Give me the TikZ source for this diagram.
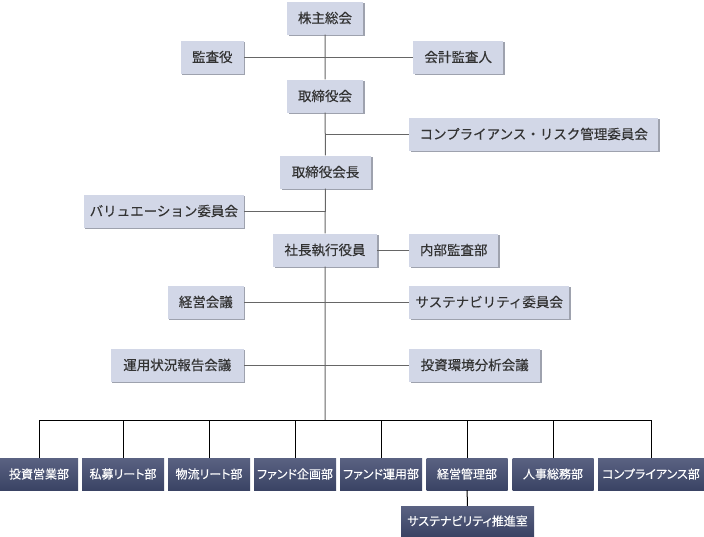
\documentclass[tikz,border=0pt]{standalone}
\usepackage{fontspec}
\setmainfont{Noto Sans CJK JP}[AutoFakeBold=0.35]
\newfontfamily\deptfont{Noto Sans CJK JP}[RawFeature=+palt,AutoFakeBold=0.35]
\usetikzlibrary{shadows}
\definecolor{boxfill}{HTML}{D2D7E7}
\definecolor{boxshade}{HTML}{9EA2AE}
\definecolor{depttop}{HTML}{5A6282}
\definecolor{deptbottom}{HTML}{3A4364}
\definecolor{txt}{HTML}{333333}
\definecolor{linegray}{HTML}{666666}
\begin{document}
\begin{tikzpicture}[x=1pt,y=-1pt,
  box/.style={fill=boxfill,minimum height=33,inner xsep=3,text=txt,
    font=\fontsize{13.5}{16}\selectfont\bfseries,
    drop shadow={shadow xshift=1.5pt,shadow yshift=-1.5pt,fill=boxshade,opacity=1}},
  dept/.style={top color=depttop,bottom color=deptbottom,minimum height=32,inner xsep=2,
    text=white,font=\deptfont\fontsize{12}{14}\selectfont\bfseries},
  conn/.style={draw=linegray,line width=1pt}]
\useasboundingbox (0,0) rectangle (704,536);

\node[box,minimum width=76] (kabunushi) at (325,18) {株主総会};
\node[box,minimum width=63,anchor=east] (kansa) at (244,57) {監査役};
\node[box,minimum width=90,anchor=west] (kaikei) at (413,57) {会計監査人};
\node[box,minimum width=76] (torishimari) at (325,96) {取締役会};
\node[box,minimum width=249,anchor=west] (compliance) at (409,134) {コンプライアンス・リスク管理委員会};
\node[box,minimum width=91] (kaicho) at (325.5,172) {取締役会長};
\node[box,minimum width=160,anchor=east] (valuation) at (244,211) {バリュエーション委員会};
\node[box,minimum width=104] (shacho) at (325,250) {社長執行役員};
\node[box,minimum width=89,anchor=west] (naibu) at (409,250) {内部監査部};
\node[box,minimum width=76,anchor=east] (keieikaigi) at (244,302) {経営会議};
\node[box,minimum width=160,anchor=west] (sustain) at (409,302) {サステナビリティ委員会};
\node[box,minimum width=133,anchor=east] (unyokaigi) at (244,365) {運用状況報告会議};
\node[box,minimum width=131,anchor=west] (kankyo) at (409,365) {投資環境分析会議};

\node[dept,minimum width=78] (toushi) at (39,474) {投資営業部};
\node[dept,minimum width=82] (shibo) at (123,474) {私募リート部};
\node[dept,minimum width=82] (butsuryu) at (209,474) {物流リート部};
\node[dept,minimum width=82] (kikaku) at (295,474) {ファンド企画部};
\node[dept,minimum width=82] (unyo) at (381,474) {ファンド運用部};
\node[dept,minimum width=81] (keiei) at (467,474) {経営管理部};
\node[dept,minimum width=81] (jinji) at (553,474) {人事総務部};
\node[dept,minimum width=106] (compbu) at (651,474) {コンプライアンス部};
\node[dept,minimum width=133,minimum height=30] (suishin) at (467.5,521) {サステナビリティ推進室};

\coordinate (bus) at (325,420);

\draw[conn] (kabunushi) -- (torishimari) -- (kaicho) -- (shacho) -- (bus);
\draw[conn] (kansa) -- (kaikei);
\draw[conn] (compliance.west -| torishimari) -- (compliance.west);
\draw[conn] (valuation) -- (valuation.east -| kaicho);
\draw[conn] (shacho) -- (naibu);
\draw[conn] (keieikaigi) -- (sustain);
\draw[conn] (unyokaigi) -- (kankyo);

\draw[line width=1pt] (toushi.north |- bus) -- (compbu.north |- bus);
\foreach \d in {toushi,shibo,butsuryu,kikaku,unyo,keiei,jinji,compbu}
  \draw[line width=1pt] (\d.north |- bus) -- (\d.north);
\draw[line width=1pt] (keiei) -- (suishin);
\end{tikzpicture}
\end{document}
